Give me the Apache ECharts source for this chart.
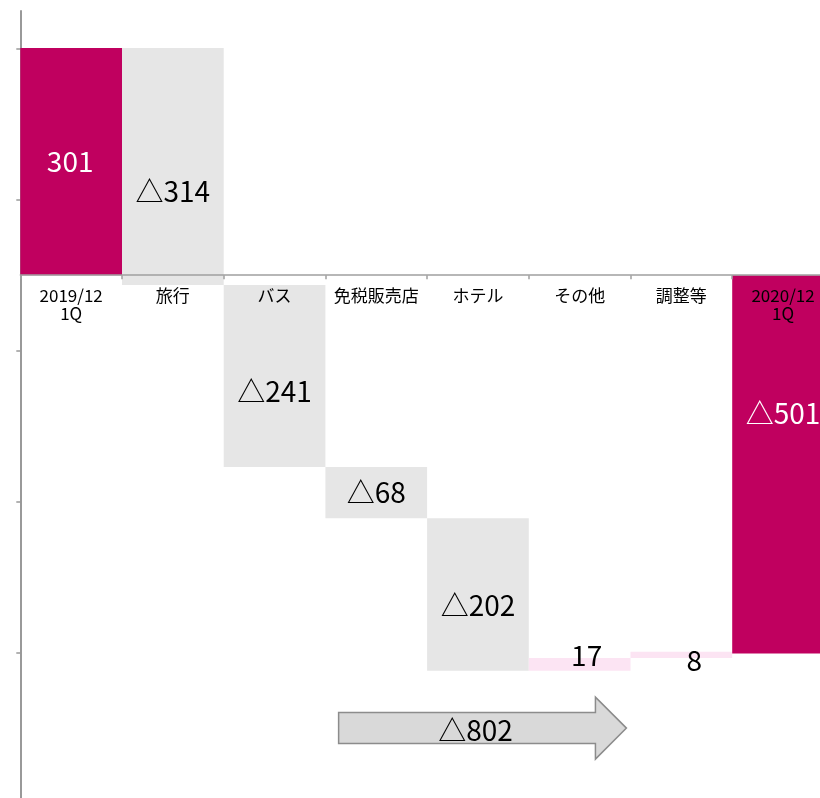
<!DOCTYPE html>
<html>
<head>
<meta charset="utf-8">
<script src="https://cdn.jsdelivr.net/npm/echarts@6/dist/echarts.min.js"></script>
<style>
html,body{margin:0;padding:0;background:#fff;}
#chart{width:820px;height:798px;}
</style>
</head>
<body>
<div id="chart"></div>
<script>
// ---- data ----
const categories = ['2019/12\n1Q', '旅行', 'バス', '免税販売店', 'ホテル', 'その他', '調整等', '2020/12\n1Q'];
const amounts = [301, -314, -241, -68, -202, 17, 8, -501];
const kinds = ['total', 'change', 'change', 'change', 'change', 'change', 'change', 'total'];
const valueLabels = ['301', '△314', '△241', '△68', '△202', '17', '8', '△501'];
const yTickValues = [300, 100, -100, -300, -500];
const yMin = -700, yMax = 350;
const arrowLabel = '△802';
const arrowFrom = 2.63;   // category position where the arrow starts
const arrowTo = 5.46;     // category position of the arrow tip
const arrowLevel = -600;  // value level of the arrow

// ---- styles / layout ----
const FONT = "'Noto Sans CJK JP', 'Noto Sans', sans-serif";
const RED = '#C0005F';
const GRAY = '#E6E6E6';
const PINK = '#FCE4F3';
const GRID_TOP = 11, GRID_H = 792.6;
const labelOffsets = [[-1, 0], [0, 25], [0, 15], [0, 0], [0, 11], [7, -9], [13, 5], [0, -51]];
// category axis drawn on the zero line
const zeroOffset = -(0 - yMin) / (yMax - yMin) * GRID_H;

// build waterfall segments
const segments = [];
let running = 0;
amounts.forEach((a, i) => {
  let s, e;
  if (kinds[i] === 'total') { s = 0; e = a; running = a; }
  else { s = running; e = running + a; running = e; }
  segments.push([i, s, e]);
});

function colorOf(i) {
  if (kinds[i] === 'total') return RED;
  return amounts[i] < 0 ? GRAY : PINK;
}

const chart = echarts.init(document.getElementById('chart'), null, { renderer: 'canvas' });
chart.setOption({
  animation: false,
  backgroundColor: '#fff',
  grid: { left: 20.3, top: GRID_TOP, width: 813.6, height: GRID_H, containLabel: false, outerBoundsMode: 'none' },
  xAxis: {
    type: 'category',
    data: categories,
    z: 10,
    position: 'bottom',
    offset: zeroOffset,
    axisLine: { show: true, onZero: false, lineStyle: { color: '#A0A0A0', width: 1.5 } },
    axisTick: { show: true, length: 4, lineStyle: { color: '#A0A0A0', width: 1.5 } },
    axisLabel: { interval: 0, fontSize: 17, color: '#000', fontFamily: FONT, lineHeight: 18, margin: 11 },
    splitLine: { show: false }
  },
  yAxis: {
    type: 'value',
    min: yMin,
    max: yMax,
    interval: 200,
    axisLine: { show: true, lineStyle: { color: '#999', width: 2 } },
    axisTick: { show: true, length: 4, customValues: yTickValues, lineStyle: { color: '#999', width: 1.5 } },
    axisLabel: { show: false },
    splitLine: { show: false }
  },
  series: [
    {
      type: 'custom',
      z: 2,
      data: segments,
      encode: { x: 0, y: [1, 2] },
      renderItem: function (params, api) {
        const i = params.dataIndex;
        const s = api.value(1), e = api.value(2);
        const p1 = api.coord([i, s]);
        const p2 = api.coord([i, e]);
        const w = api.size([1, 0])[0];
        const y = Math.min(p1[1], p2[1]);
        const h = Math.abs(p1[1] - p2[1]);
        const off = labelOffsets[i];
        return {
          type: 'group',
          children: [
            { type: 'rect', shape: { x: p1[0] - w / 2, y: y, width: w, height: h }, style: { fill: colorOf(i) } },
            {
              type: 'text', z2: 5,
              x: p1[0] + off[0], y: (p1[1] + p2[1]) / 2 + off[1],
              style: {
                text: valueLabels[i],
                fill: kinds[i] === 'total' ? '#fff' : '#000',
                fontSize: 28, fontFamily: FONT,
                align: 'center', verticalAlign: 'middle'
              }
            }
          ]
        };
      }
    },
    {
      type: 'custom',
      z: 3,
      data: [[Math.floor(arrowFrom), arrowLevel]],
      encode: { x: 0, y: 1 },
      renderItem: function (params, api) {
        const band = api.size([1, 0])[0];
        const fi = Math.floor(arrowFrom), ti = Math.floor(arrowTo);
        const xs = api.coord([fi, arrowLevel])[0] + (arrowFrom - fi) * band;
        const xt = api.coord([ti, arrowLevel])[0] + (arrowTo - ti) * band;
        const yc = api.coord([fi, arrowLevel])[1];
        const bh = 15.5, hh = 31, hl = 31;
        const pts = [
          [xs, yc - bh], [xt - hl, yc - bh], [xt - hl, yc - hh], [xt, yc],
          [xt - hl, yc + hh], [xt - hl, yc + bh], [xs, yc + bh]
        ];
        return {
          type: 'group',
          children: [
            { type: 'polygon', shape: { points: pts }, style: { fill: '#D9D9D9', stroke: '#8C8C8C', lineWidth: 1.5 } },
            {
              type: 'text', z2: 5,
              x: (xs + xt) / 2 - 7, y: yc + 2,
              style: { text: arrowLabel, fill: '#000', fontSize: 28, fontFamily: FONT, align: 'center', verticalAlign: 'middle' }
            }
          ]
        };
      }
    }
  ]
});
</script>
</body>
</html>
